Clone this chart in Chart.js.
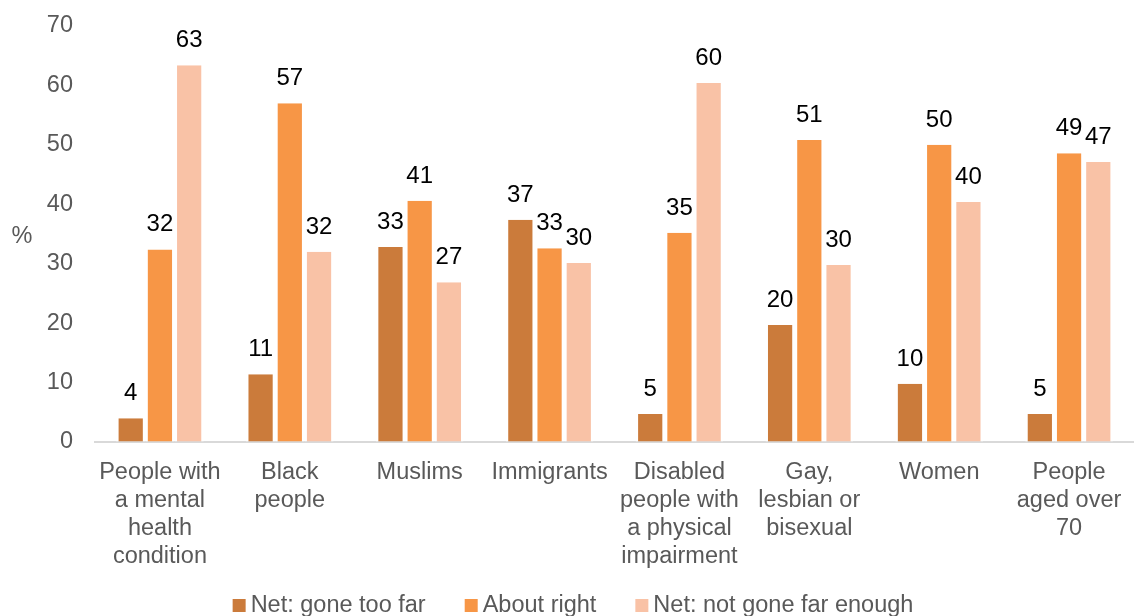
<!DOCTYPE html>
<html>
<head>
<meta charset="utf-8">
<title>Attitudes by group</title>
<script src="https://cdn.jsdelivr.net/npm/chart.js@4/dist/chart.umd.min.js"></script>
<style>
  html, body { margin: 0; padding: 0; background: #fff; overflow: hidden; }
  #wrap { position: relative; width: 1134px; height: 616px; }
</style>
</head>
<body>
<div id="wrap"><canvas id="chart"></canvas></div>
<script>
  // categories (multi-line, as wrapped in the original)
  const categories = [
    ["People with", "a mental", "health", "condition"],
    ["Black", "people"],
    ["Muslims"],
    ["Immigrants"],
    ["Disabled", "people with", "a physical", "impairment"],
    ["Gay,", "lesbian or", "bisexual"],
    ["Women"],
    ["People", "aged over", "70"],
  ];

  const goneTooFar = [4.0, 11.4, 32.8, 37.4, 4.7, 19.7, 9.8, 4.7];
  const aboutRight = [32.4, 57.0, 40.6, 32.6, 35.2, 50.8, 50.0, 48.6];
  const notFarEnough = [63.4, 32.0, 26.9, 30.1, 60.4, 29.8, 40.4, 47.1];

  const yTicks = [0, 10, 20, 30, 40, 50, 60, 70];

  const FONT = "'Liberation Sans', Arial, sans-serif";
  const GREY = "#595959";

  // value labels drawn above each bar
  const barLabels = {
    id: "barLabels",
    afterDatasetsDraw(chart) {
      const ctx = chart.ctx;
      ctx.save();
      ctx.font = "24px " + FONT;
      ctx.fillStyle = "#000";
      ctx.textAlign = "center";
      ctx.textBaseline = "alphabetic";
      chart.data.datasets.forEach((ds, i) => {
        chart.getDatasetMeta(i).data.forEach((bar, j) => {
          ctx.fillText(String(Math.round(ds.data[j])), bar.x, bar.y - 18);
        });
      });
      ctx.restore();
    },
  };

  // horizontal "%" axis title on the left
  const pctTitle = {
    id: "pctTitle",
    afterDraw(chart) {
      const ctx = chart.ctx;
      const a = chart.chartArea;
      ctx.save();
      ctx.font = "23.5px " + FONT;
      ctx.fillStyle = GREY;
      ctx.textAlign = "center";
      ctx.textBaseline = "middle";
      ctx.fillText("%", 22, (a.top + a.bottom) / 2 + 3);
      ctx.restore();
    },
  };

  // compact legend along the bottom edge (tighter box/text gap than the built-in one)
  const bottomLegend = {
    id: "bottomLegend",
    afterDraw(chart) {
      const ctx = chart.ctx;
      const box = 13, gap = 5, spacing = 39, y = 605.5;
      ctx.save();
      ctx.font = "23.5px " + FONT;
      ctx.textBaseline = "middle";
      ctx.textAlign = "left";
      const items = chart.data.datasets.map((ds) => ({
        text: ds.label,
        color: ds.backgroundColor,
        w: ctx.measureText(ds.label).width,
      }));
      const total = items.reduce((s, it) => s + box + gap + it.w, 0) + spacing * (items.length - 1);
      let x = (chart.width - total) / 2 + 6;
      items.forEach((it) => {
        ctx.fillStyle = it.color;
        ctx.fillRect(x, y - box / 2, box, box);
        ctx.fillStyle = GREY;
        ctx.fillText(it.text, x + box + gap, y);
        x += box + gap + it.w + spacing;
      });
      ctx.restore();
    },
  };

  const barStyle = {
    borderColor: "#fff",
    borderWidth: { left: 2.5, right: 2.5, top: 0, bottom: 0 },
    borderSkipped: false,
  };

  // invisible tick marks are used as the gap between labels and axis,
  // so the tick padding does not push the plot area down
  const hiddenTicks = (len) => ({
    display: true,
    drawOnChartArea: false,
    drawTicks: true,
    tickLength: len,
    color: "rgba(0,0,0,0)",
    tickColor: "rgba(0,0,0,0)",
  });

  new Chart(document.getElementById("chart"), {
    type: "bar",
    data: {
      labels: categories,
      datasets: [
        Object.assign({ label: "Net: gone too far", data: goneTooFar, backgroundColor: "#CB7B3B" }, barStyle),
        Object.assign({ label: "About right", data: aboutRight, backgroundColor: "#F79646" }, barStyle),
        Object.assign({ label: "Net: not gone far enough", data: notFarEnough, backgroundColor: "#F9C2A6" }, barStyle),
      ],
    },
    options: {
      responsive: true,
      maintainAspectRatio: false,
      animation: false,
      layout: { padding: { top: 26, right: 0, bottom: 0, left: 0 } },
      datasets: { bar: { categoryPercentage: 0.675, barPercentage: 1 } },
      plugins: {
        tooltip: { enabled: false },
        legend: { display: false },
      },
      scales: {
        x: {
          afterFit: (s) => { s.height = 174; },
          grid: hiddenTicks(17),
          border: { display: true, color: "#D9D9D9", width: 2 },
          ticks: {
            color: GREY,
            padding: 0,
            maxRotation: 0,
            autoSkip: false,
            font: { family: FONT, size: 23.5, lineHeight: 1.18 },
          },
        },
        y: {
          min: 0,
          max: 70,
          afterBuildTicks: (s) => { s.ticks = yTicks.map((v) => ({ value: v })); },
          afterFit: (s) => { s.width = 95; },
          grid: hiddenTicks(22),
          border: { display: false },
          ticks: {
            color: GREY,
            padding: 0,
            font: { family: FONT, size: 23.5 },
          },
        },
      },
    },
    plugins: [barLabels, pctTitle, bottomLegend],
  });
</script>
</body>
</html>
